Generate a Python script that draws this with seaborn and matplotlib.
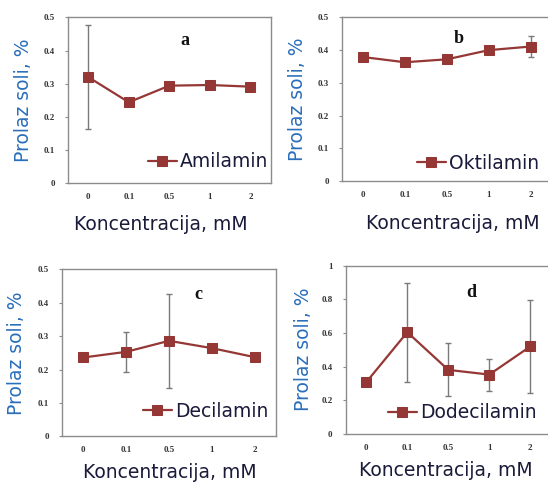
import pandas as pd
import matplotlib
matplotlib.use("Agg")
import matplotlib.pyplot as plt
import seaborn as sns

# concentration categories (x axis)
concentrations = ["0", "0.1", "0.5", "1", "2"]

# salt passage, %
amilamin = [0.320, 0.244, 0.294, 0.296, 0.291]
amilamin_err = [0.156, 0, 0, 0, 0]

oktilamin = [0.379, 0.363, 0.372, 0.400, 0.411]
oktilamin_err = [0, 0, 0, 0, 0.033]

decilamin = [0.236, 0.253, 0.286, 0.264, 0.237]
decilamin_err = [0, 0.060, 0.141, 0, 0]

dodecilamin = [0.307, 0.604, 0.380, 0.352, 0.519]
dodecilamin_err = [0, 0.295, 0.157, 0.095, 0.279]

series_names = ["Amilamin", "Oktilamin", "Decilamin", "Dodecilamin"]
panel_letters = ["a", "b", "c", "d"]

sns.set_style("white")
plt.rcParams["font.family"] = ["DejaVu Sans"]

LINE = "#953735"
SPINE = "#8c8c8c"
ERR = "#7a7a7a"
YLAB = "#2a6ebb"
XLAB = "#1a1a3a"
LABEL_SIZE = 13.5

# layout per panel: axes rect, letter pos, legend pos, ylabel x, xlabel pos
layout = [
    dict(rect=[0.124, 0.620, 0.370, 0.344], letter=(0.576, 0.86), leg=(0.394, 0.13),
         ylab=-0.172, xlab=(0.46, -0.19), ymax=0.5),
    dict(rect=[0.624, 0.624, 0.383, 0.340], letter=(0.557, 0.87), leg=(0.357, 0.11),
         ylab=-0.167, xlab=(0.526, -0.20), ymax=0.5),
    dict(rect=[0.113, 0.095, 0.391, 0.346], letter=(0.635, 0.85), leg=(0.378, 0.15),
         ylab=-0.168, xlab=(0.502, -0.16), ymax=0.5),
    dict(rect=[0.631, 0.100, 0.374, 0.349], letter=(0.61, 0.84), leg=(0.205, 0.125),
         ylab=-0.161, xlab=(0.49, -0.16), ymax=1.0),
]

values = [amilamin, oktilamin, decilamin, dodecilamin]
errors = [amilamin_err, oktilamin_err, decilamin_err, dodecilamin_err]

fig = plt.figure(figsize=(5.48, 4.82), dpi=100)

for name, letter, vals, errs, lay in zip(series_names, panel_letters, values, errors, layout):
    ax = fig.add_axes(lay["rect"])
    df = pd.DataFrame({"pos": range(len(concentrations)), "val": vals, "err": errs})

    # error bars (only where there is one)
    e = df[df["err"] > 0]
    ax.errorbar(e["pos"], e["val"], yerr=e["err"], fmt="none", ecolor=ERR,
                elinewidth=1.0, capsize=2.5, capthick=1.0, zorder=1)

    sns.lineplot(data=df, x="pos", y="val", ax=ax, color=LINE, marker="s",
                 markersize=6.5, markeredgecolor=LINE, linewidth=1.6,
                 label=name, sort=False, zorder=3)

    ax.set_xlim(-0.5, len(concentrations) - 0.5)
    ax.set_ylim(0, lay["ymax"])
    ax.set_xticks(range(len(concentrations)))
    ax.set_xticklabels(concentrations)
    step = lay["ymax"] / 5
    yt = [round(i * step, 2) for i in range(6)]
    ax.set_yticks(yt)
    ax.set_yticklabels([f"{v:g}" for v in yt])

    for lab in ax.get_xticklabels() + ax.get_yticklabels():
        lab.set_fontfamily("Liberation Serif")
        lab.set_fontweight("bold")
        lab.set_fontsize(6.5)
        lab.set_color("#333333")
    ax.tick_params(axis="x", length=0, pad=7)
    ax.tick_params(axis="y", length=2.5, width=0.8, color=SPINE, pad=7, left=True)

    for sp in ax.spines.values():
        sp.set_color(SPINE)
        sp.set_linewidth(1.0)

    ax.set_ylabel("Prolaz soli, %", fontsize=LABEL_SIZE, color=YLAB)
    ax.yaxis.set_label_coords(lay["ylab"], 0.5)
    ax.set_xlabel("Koncentracija, mM", fontsize=LABEL_SIZE, color=XLAB)
    ax.xaxis.set_label_coords(*lay["xlab"])

    ax.text(lay["letter"][0], lay["letter"][1], letter, transform=ax.transAxes,
            fontsize=13, fontweight="bold", family="Liberation Serif",
            ha="center", va="center", color="#111111")

    ax.legend(loc="center left", bbox_to_anchor=lay["leg"], frameon=False,
              fontsize=LABEL_SIZE, handlelength=1.55, handletextpad=0.15, borderpad=0,
              borderaxespad=0, labelcolor=XLAB)

fig.savefig("out.png", dpi=100)
